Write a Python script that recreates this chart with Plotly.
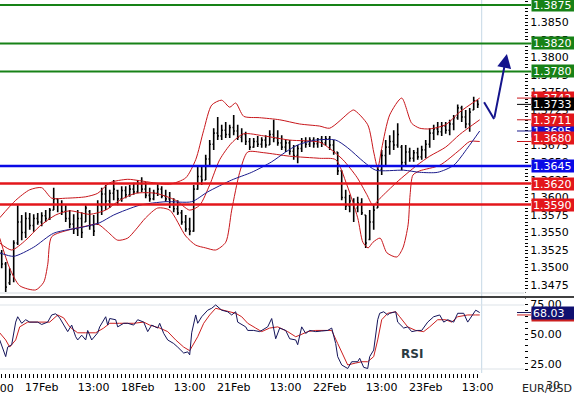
import plotly.graph_objects as go

# ---------------- data (hour index: 17Feb 00:00 = 0, weekend removed) ----------------
hours = list(range(-10, 110))
opens = [1.3520,1.3505,1.3478,1.3490,1.3535,1.3565,1.3550,1.3570,1.3560,1.3570,
         1.3565,1.3574,1.3570,1.3582,1.3598,1.3590,1.3580,1.3570,1.3562,1.3555,
         1.3570,1.3565,1.3580,1.3560,1.3562,1.3588,1.3605,1.3595,1.3606,1.3610,
         1.3598,1.3610,1.3604,1.3612,1.3608,1.3620,1.3612,1.3603,1.3598,1.3606,
         1.3612,1.3602,1.3598,1.3590,1.3584,1.3578,1.3565,1.3555,1.3552,1.3612,
         1.3630,1.3625,1.3655,1.3676,1.3692,1.3688,1.3696,1.3690,1.3700,1.3695,
         1.3686,1.3690,1.3680,1.3672,1.3680,1.3676,1.3682,1.3675,1.3690,1.3685,
         1.3678,1.3672,1.3678,1.3666,1.3660,1.3670,1.3680,1.3676,1.3682,1.3677,
         1.3683,1.3678,1.3684,1.3675,1.3665,1.3638,1.3600,1.3588,1.3595,1.3585,
         1.3592,1.3575,1.3540,1.3565,1.3585,1.3640,1.3660,1.3672,1.3680,1.3675,
         1.3672,1.3650,1.3665,1.3656,1.3664,1.3658,1.3668,1.3676,1.3692,1.3698,
         1.3694,1.3702,1.3696,1.3705,1.3714,1.3728,1.3715,1.3705,1.3725,1.3738]
highs = [1.3525,1.3508,1.3499,1.3539,1.3589,1.3575,1.3579,1.3578,1.3576,1.3578,
         1.3579,1.3582,1.3585,1.3614,1.3599,1.3596,1.3589,1.3582,1.3576,1.3582,
         1.3579,1.3589,1.3582,1.3575,1.3596,1.3614,1.3618,1.3611,1.3625,1.3611,
         1.3616,1.3616,1.3618,1.3621,1.3625,1.3629,1.3622,1.3614,1.3611,1.3619,
         1.3616,1.3611,1.3608,1.3599,1.3596,1.3582,1.3575,1.3571,1.3618,1.3646,
         1.3646,1.3661,1.3682,1.3699,1.3715,1.3704,1.3708,1.3704,1.3718,1.3704,
         1.3699,1.3694,1.3685,1.3685,1.3688,1.3686,1.3689,1.3696,1.3711,1.3696,
         1.3689,1.3682,1.3682,1.3675,1.3675,1.3685,1.3686,1.3686,1.3686,1.3685,
         1.3688,1.3688,1.3688,1.3682,1.3665,1.3639,1.3611,1.3604,1.3599,1.3601,
         1.3599,1.3575,1.3582,1.3589,1.3646,1.3668,1.3682,1.3689,1.3696,1.3706,
         1.3675,1.3675,1.3671,1.3668,1.3671,1.3674,1.3682,1.3699,1.3704,1.3708,
         1.3708,1.3708,1.3711,1.3718,1.3733,1.3731,1.3725,1.3728,1.3744,1.3739]
lows = [1.3499,1.3465,1.3475,1.3479,1.3532,1.3539,1.3542,1.3554,1.3551,1.3561,
        1.3559,1.3565,1.3568,1.3582,1.3579,1.3575,1.3565,1.3556,1.3548,1.3545,
        1.3542,1.3565,1.3554,1.3545,1.3561,1.3575,1.3582,1.3585,1.3596,1.3589,
        1.3594,1.3599,1.3601,1.3604,1.3606,1.3608,1.3599,1.3594,1.3596,1.3602,
        1.3599,1.3594,1.3585,1.3579,1.3575,1.3561,1.3551,1.3546,1.3551,1.3611,
        1.3618,1.3625,1.3646,1.3668,1.3682,1.3682,1.3685,1.3685,1.3689,1.3682,
        1.3679,1.3675,1.3668,1.3671,1.3672,1.3671,1.3671,1.3675,1.3679,1.3674,
        1.3668,1.3665,1.3661,1.3654,1.3649,1.3665,1.3671,1.3672,1.3671,1.3671,
        1.3672,1.3674,1.3668,1.3661,1.3632,1.3596,1.3582,1.3579,1.3565,1.3579,
        1.3575,1.3528,1.3539,1.3554,1.3585,1.3632,1.3646,1.3661,1.3668,1.3671,
        1.3639,1.3646,1.3651,1.3651,1.3654,1.3654,1.3656,1.3671,1.3682,1.3689,
        1.3688,1.3691,1.3689,1.3696,1.3711,1.3708,1.3699,1.3694,1.3725,1.3728]
closes = [1.3505,1.3472,1.3490,1.3535,1.3565,1.3550,1.3570,1.3560,1.3570,1.3565,
          1.3574,1.3570,1.3582,1.3598,1.3590,1.3580,1.3570,1.3562,1.3555,1.3570,
          1.3550,1.3585,1.3560,1.3552,1.3590,1.3605,1.3595,1.3606,1.3612,1.3598,
          1.3610,1.3604,1.3612,1.3608,1.3620,1.3612,1.3603,1.3598,1.3606,1.3612,
          1.3602,1.3598,1.3590,1.3584,1.3578,1.3565,1.3555,1.3552,1.3612,1.3630,
          1.3625,1.3655,1.3676,1.3692,1.3688,1.3696,1.3690,1.3700,1.3695,1.3686,
          1.3690,1.3680,1.3672,1.3680,1.3676,1.3682,1.3675,1.3690,1.3685,1.3678,
          1.3672,1.3678,1.3666,1.3660,1.3670,1.3680,1.3676,1.3682,1.3677,1.3683,
          1.3678,1.3684,1.3675,1.3665,1.3638,1.3600,1.3588,1.3595,1.3585,1.3592,
          1.3578,1.3535,1.3565,1.3582,1.3640,1.3660,1.3672,1.3680,1.3675,1.3690,
          1.3650,1.3665,1.3656,1.3664,1.3658,1.3668,1.3676,1.3692,1.3698,1.3694,
          1.3702,1.3696,1.3705,1.3714,1.3728,1.3715,1.3705,1.3722,1.3738,1.3733]

upper_h = [-10.5,-6.5,-3,0,2.5,6,11,14,17,21.5,24.5,28,32,36,38.5,40.5,42.5,45,47,48.5,
           50.5,54.5,59.5,64.5,69.5,72,77,78,81.5,83,84,85,87,90,92.5,94.5,97,101,104.5,109.5]
upper = [1.3571,1.3596,1.3611,1.3614,1.3599,1.3599,1.3601,1.3606,1.3621,1.3626,
         1.3624,1.3621,1.3619,1.3628,1.3654,1.3696,1.3732,1.3739,1.3729,1.3735,
         1.3716,1.3714,1.3711,1.3705,1.3702,1.3699,1.3722,1.3725,1.3704,1.3665,
         1.3642,1.3670,1.3718,1.3742,1.3706,1.3699,1.3698,1.3704,1.3722,1.3742]
middle_h = [-10.5,-7.5,-4,-0.5,3.5,7,12,16,19.5,23.5,28.5,33.5,37,39.5,42,44.5,47.5,50.5,
            55.5,62,69.5,72,75.3,78.8,81.3,82.8,84.6,88.8,93.8,97,101,104.5,109.5]
middle = [1.3535,1.3525,1.3539,1.3559,1.3575,1.3581,1.3576,1.3582,1.3596,1.3606,
          1.3606,1.3596,1.3582,1.3589,1.3618,1.3654,1.3678,1.3691,1.3688,1.3682,
          1.3679,1.3670,1.3654,1.3629,1.3604,1.3589,1.3599,1.3622,1.3646,1.3659,
          1.3672,1.3690,1.3711]
lower_h = [-10.5,-8,-5.5,-1.5,0.5,1.5,2.5,7,11,14,16.5,19,21.5,23.5,26,29,32,36,38.5,41,
           43.5,46,47.5,49.5,51.5,55.5,62,69.5,73.5,76.3,79,80.3,81.6,82.8,84.6,86.3,88.8,90.3,
           91.6,92.1,92.8,94.5,99.5,104.5,107,109.5]
lower = [1.3542,1.3499,1.3474,1.3468,1.3479,1.3504,1.3544,1.3554,1.3559,1.3562,
         1.3551,1.3539,1.3542,1.3554,1.3571,1.3585,1.3582,1.3545,1.3532,1.3528,
         1.3525,1.3536,1.3582,1.3636,1.3665,1.3664,1.3659,1.3656,1.3654,1.3618,
         1.3571,1.3536,1.3528,1.3536,1.3542,1.3521,1.3515,1.3528,1.3561,1.3604,
         1.3632,1.3638,1.3646,1.3668,1.3680,1.3680]
ma_h = [-10.5,-7,-2,3,10.5,14.5,18,24.5,31,37.5,41.5,47.5,52.5,57.5,61,64,68.5,73.5,
        76.5,80.5,83.5,90.5,94.5,99,103,106.5,109.5]
ma = [1.3521,1.3516,1.3529,1.3549,1.3558,1.3564,1.3575,1.3589,1.3594,1.3594,
      1.3608,1.3625,1.3636,1.3651,1.3665,1.3675,1.3682,1.3682,1.3671,1.3651,
      1.3639,1.3639,1.3636,1.3636,1.3646,1.3671,1.3695]

rsi_h = [-10.5,-9.5,-9,-8.5,-7.5,-6.5,-6,-5,-4,-3,-1,0,1.5,2.5,3.5,4.5,6,6.5,7.5,8.5,
         9,10,11,11.5,12.5,14,14.5,16,16.5,17,18.5,19,20.5,21.5,23,24,25.5,26.5,27.5,29,
         29.5,30.5,31.5,33,34,35.5,36.5,37,37.5,38.5,39,40,41.5,42.5,43.5,45,46.5,47.5,48.5,49,
         51,51.5,53,54.5,56.5,57.5,58.5,59.5,61,62,63.5,64,65,66,67,68.5,70,71.5,72.5,73.5,
         74,75,76.5,77.5,79,79.5,80.5,81.5,82,83,84,84.5,85.5,86.5,87,88.5,89,90.5,91.5,92.5,
         94,95,96.5,98,99.5,100.5,101.5,103,104,105.5,106.5,107.5,108.5,109.5]
rsi = [45,35,31,39,41,60,64.5,59,62,60,60,58,60,66,67,63.5,55,52,57.5,47.7,
       45,49,45,53,45,51,56,64.5,57.5,63,62,56,59,59,57.5,62,60,52,57.5,55,
       59,50.5,45,42,39,34,35,32.5,51,66,59,64.5,70,71.6,74.4,70,68.7,66,68.7,60,
       56,53,53,52,56,63,46,55,53,46,45,41,56,50.5,53,52,52.5,53,55,42,
       31,24,21,26.7,26.7,29.6,22,21,31,36.5,62,67.4,68.7,66,67.4,68.7,60,55,56,52,
       53,53,60,64.5,66,60,62,60,67.4,67.4,60,64.5,70,68.03]
sig_h = [-10.5,-9,-8,-6.5,-5.5,-3.5,-0.5,2,4,5.5,7,9,11,13.5,15.5,17,19.5,23,25.5,27,
         29.5,31.5,33.5,35.5,37,39,40.5,42,43.5,45.5,48.5,50,51.5,53.5,55,57,59,61.5,63.5,64.5,
         66.5,68.5,71,72.5,74,75.5,76.5,78.5,80,81.5,83,84,85,86.5,88.5,89.5,91.5,93.5,95.5,97,
         99,101,102.5,104,106.5,108.5,109.5]
sig = [51,45,39,45,56,60,60,60,66,63.5,56,51,51,51,55,59,59,59,60,57.5,
       55,52,45,39,36,47.7,59,66,71.6,70,67.4,64.5,59,55,52,55,56,52,47.7,49,
       52,53,53,53,42,31,24,25.6,26.7,26.7,31,45,62,67.4,68.7,64.5,56,53,52,56,
       62,62,60,64.5,66,66,66]

resistance = [1.3875, 1.3820, 1.3780]
pivot = [1.3645]
support = [1.3620, 1.3590]
forecast_h = [110.6, 113.1, 116.3]
forecast_p = [1.3736, 1.3712, 1.3805]
day_ticks = [0, 13, 24, 37, 48, 61, 72, 85, 96, 109]
day_labels = ["17Feb", "13:00", "18Feb", "13:00", "21Feb", "13:00", "22Feb", "13:00", "23Feb", "13:00"]
hidden_tick = (-11, "13:00")
now_hour = 110
symbol = "EUR/USD"
timeframe = "30"

# ---------------- styling ----------------
W, H = 574, 398
ML, MR, MT, MB = 0, 50, 0, 25
PW, PH = W - ML - MR, H - MT - MB
FONT = "DejaVu Sans"
GREEN, BLUE, RED = "#178217", "#0a0ae6", "#e3161b"
BAND, MAC = "#c8161b", "#1c1c8c"
XR = [-10.425, 120.575]
main_dom = [1 - 293 / PH, 1]
rsi_dom = [0, (PH - 297) / PH]

def x_paper(h):
    return (h - XR[0]) / (XR[1] - XR[0])

fig = go.Figure()
fig.add_trace(go.Ohlc(x=hours, open=opens, high=highs, low=lows, close=closes,
                      increasing_line_color="black", decreasing_line_color="black",
                      line_width=1.6, tickwidth=0.3, xaxis="x", yaxis="y", hoverinfo="skip"))
for hx, vy, col in [(upper_h, upper, BAND), (middle_h, middle, BAND), (lower_h, lower, BAND), (ma_h, ma, MAC)]:
    fig.add_trace(go.Scatter(x=hx, y=vy, mode="lines", line=dict(color=col, width=1, shape="spline", smoothing=0.7),
                             xaxis="x", yaxis="y", hoverinfo="skip"))
fig.add_trace(go.Scatter(x=forecast_h[:2], y=forecast_p[:2], mode="lines",
                         line=dict(color="#14148c", width=2), xaxis="x", yaxis="y", hoverinfo="skip"))
fig.add_trace(go.Scatter(x=sig_h, y=sig, mode="lines", line=dict(color="#cc1f1f", width=1),
                         xaxis="x2", yaxis="y2", hoverinfo="skip"))
fig.add_trace(go.Scatter(x=rsi_h, y=rsi, mode="lines", line=dict(color="#14145a", width=1),
                         xaxis="x2", yaxis="y2", hoverinfo="skip"))

shapes = []
x_end = 531 / PW
for lv in resistance:
    shapes.append(dict(type="line", xref="paper", yref="y", x0=0, x1=x_end, y0=lv, y1=lv, line=dict(color=GREEN, width=2)))
for lv in pivot:
    shapes.append(dict(type="line", xref="paper", yref="y", x0=0, x1=x_end, y0=lv, y1=lv, line=dict(color=BLUE, width=2.5)))
for lv in support:
    shapes.append(dict(type="line", xref="paper", yref="y", x0=0, x1=x_end, y0=lv, y1=lv, line=dict(color=RED, width=2.5)))
shapes.append(dict(type="line", xref="x", yref="paper", x0=now_hour, x1=now_hour, y0=0, y1=1,
                   line=dict(color="#c5d8e6", width=1), layer="below"))
shapes.append(dict(type="line", xref="paper", yref="paper", x0=0, x1=1, y0=main_dom[0], y1=main_dom[0],
                   line=dict(color="#d3d9de", width=1), layer="below"))
for yy in [(PH - 305) / PH, (PH - 369) / PH]:
    shapes.append(dict(type="line", xref="paper", yref="paper", x0=0, x1=1, y0=yy, y1=yy,
                       line=dict(color="#dde3e8", width=1), layer="below"))
# short value markers just left of the value boxes
for val, col, yref in [(upper[-1], BAND, "y"), (closes[-1], "black", "y"), (middle[-1], BAND, "y"),
                       (ma[-1], MAC, "y"), (lower[-1], BAND, "y"), (rsi[-1], "#14145a", "y2"), (sig[-1], "#cc1f1f", "y2")]:
    shapes.append(dict(type="line", xref="paper", yref=yref, x0=517 / PW, x1=x_end, y0=val, y1=val,
                       line=dict(color=col, width=1)))
# white strip that trims the top RSI label as in the source, then the separator
shapes.append(dict(type="rect", xref="paper", yref="paper", x0=1.003, x1=W / PW, y0=(PH - 299.5) / PH,
                   y1=(PH - 291.5) / PH, fillcolor="white", line=dict(width=0)))
shapes.append(dict(type="line", xref="paper", yref="paper", x0=0, x1=W / PW, y0=rsi_dom[1], y1=rsi_dom[1],
                   line=dict(color="black", width=1.5)))

ann = []
def box(val, col, yref="y", fmt="{:.4f}", yshift=0):
    ann.append(dict(xref="paper", yref=yref, x=x_end, y=val, xanchor="left", yanchor="middle",
                    text=fmt.format(val), showarrow=False, bgcolor=col, borderpad=1, width=41, height=10,
                    align="left", yshift=yshift, font=dict(family=FONT, size=11, color="white")))
for lv in resistance:
    box(lv, GREEN)
box(upper[-1], RED)
box(ma[-1], "#1010d0")
box(closes[-1], "black")
box(middle[-1], RED)
box(lower[-1], RED, yshift=3)
for lv in pivot:
    box(lv, BLUE)
for lv in support:
    box(lv, RED)
box(sig[-1], "#cc1f1f", yref="y2", fmt="{:.2f}")
box(rsi[-1], "#101070", yref="y2", fmt="{:.2f}")

ann.append(dict(x=forecast_h[2], y=forecast_p[2], ax=forecast_h[1], ay=forecast_p[1], xref="x", yref="y",
                axref="x", ayref="y", showarrow=True, arrowhead=2, arrowsize=1.4, arrowwidth=2,
                arrowcolor="#14148c", text=""))
ann.append(dict(xref="x2", yref="y2", x=92.5, y=33, text="<b>RSI</b>", showarrow=False,
                font=dict(family=FONT, size=12, color="#2b3a42")))
ann.append(dict(xref="paper", yref="paper", x=x_paper(hidden_tick[0]), y=-(388 - PH) / PH, text=hidden_tick[1],
                showarrow=False, xanchor="center", yanchor="middle", font=dict(family=FONT, size=11, color="black")))
ann.append(dict(xref="paper", yref="paper", x=W / PW, y=-(388 - PH) / PH, text=symbol, showarrow=False,
                xanchor="right", yanchor="middle", font=dict(family=FONT, size=11, color="#222")))
ann.append(dict(xref="paper", yref="paper", x=553 / PW, y=-(385 - PH) / PH, text=timeframe, showarrow=False,
                xanchor="center", yanchor="middle", font=dict(family=FONT, size=11, color="#222")))

tick_text = [day_labels[day_ticks.index(h)] if h in day_ticks else "" for h in hours]

fig.update_layout(
    width=W, height=H, margin=dict(l=ML, r=MR, t=MT, b=MB),
    paper_bgcolor="white", plot_bgcolor="white", showlegend=False,
    font=dict(family=FONT, size=11, color="black"),
    shapes=shapes, annotations=ann,
    xaxis=dict(domain=[0, 1], anchor="y", range=XR, showticklabels=False, ticks="", showgrid=False,
               zeroline=False, showline=False, rangeslider=dict(visible=False)),
    xaxis2=dict(domain=[0, 1], anchor="y2", range=XR, tickmode="array", tickvals=hours, ticktext=tick_text,
                ticks="outside", ticklen=4, tickwidth=1, tickcolor="black", showgrid=False, zeroline=False,
                showline=False, tickangle=0, tickfont=dict(family=FONT, size=11, color="black")),
    yaxis=dict(domain=main_dom, anchor="x", side="right", range=[1.34636, 1.38821], tick0=1.3475, dtick=0.0025,
               tickformat=".4f", ticks="outside", ticklen=3, tickcolor="black", showgrid=False, zeroline=False,
               showline=False, tickfont=dict(family=FONT, size=11, color="black"),
               minor=dict(dtick=0.0005, tick0=1.3475, ticks="outside", ticklen=3, tickcolor="black", showgrid=False)),
    yaxis2=dict(domain=rsi_dom, anchor="x2", side="right", range=[17.23, 81.09], tick0=0, dtick=25,
                tickformat=".2f", ticks="outside", ticklen=3, tickcolor="black", showgrid=False, zeroline=False,
                showline=False, tickfont=dict(family=FONT, size=11, color="black"),
                minor=dict(dtick=5, tick0=0, ticks="outside", ticklen=3, tickcolor="black", showgrid=False)),
)
fig.write_html("out.html", config={"displayModeBar": False},
               post_script="document.body.style.margin='0';document.body.style.overflow='hidden';")
